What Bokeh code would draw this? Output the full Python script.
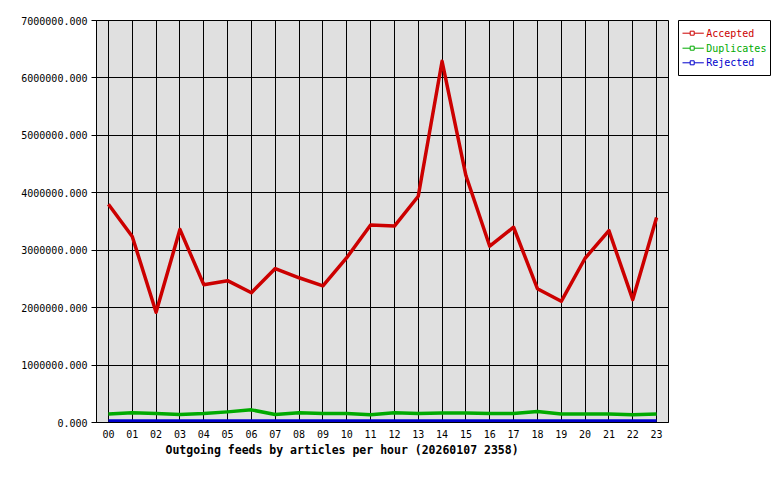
from bokeh.plotting import figure
from bokeh.models import FixedTicker, PrintfTickFormatter, Range1d, Title
from bokeh.layouts import row
from bokeh.embed import file_html
from bokeh.resources import INLINE
from bokeh.core.properties import value

# ---- data ----
hours = [0, 1, 2, 3, 4, 5, 6, 7, 8, 9, 10, 11, 12, 13, 14, 15, 16, 17, 18, 19, 20, 21, 22, 23]
hour_labels = ["00", "01", "02", "03", "04", "05", "06", "07", "08", "09", "10", "11",
               "12", "13", "14", "15", "16", "17", "18", "19", "20", "21", "22", "23"]
accepted = [3800000, 3240000, 1920000, 3360000, 2400000, 2470000, 2260000, 2680000,
            2520000, 2380000, 2870000, 3440000, 3420000, 3940000, 6290000, 4300000,
            3070000, 3400000, 2330000, 2110000, 2860000, 3340000, 2140000, 3570000]
duplicates = [150000, 170000, 155000, 140000, 155000, 185000, 220000, 140000,
              170000, 155000, 155000, 135000, 170000, 155000, 165000, 165000,
              155000, 155000, 190000, 150000, 150000, 150000, 135000, 150000]
rejected = [25000, 26000, 24000, 25000, 25000, 26000, 27000, 24000,
            25000, 25000, 26000, 24000, 25000, 26000, 28000, 27000,
            25000, 25000, 26000, 24000, 25000, 25000, 24000, 25000]
y_ticks = [0, 1000000, 2000000, 3000000, 4000000, 5000000, 6000000, 7000000]
series_names = ["Accepted", "Duplicates", "Rejected"]
series_colors = ["#cc0000", "#00aa00", "#0000cc"]
title_text = "Outgoing feeds by articles per hour (20260107 2358)"

FONT = "DejaVu Sans Mono"

# ---- main chart ----
p = figure(frame_width=572, frame_height=402, output_backend="svg", toolbar_location=None,
           title=None,
           x_range=Range1d(-0.5, 23.5), y_range=Range1d(0, 7000000),
           min_border_left=96, min_border_right=9, min_border_top=20,
           min_border_bottom=48, background_fill_color="#e0e0e0",
           border_fill_color="white", outline_line_color="black",
           outline_line_width=1)

p.xaxis.ticker = FixedTicker(ticks=hours)
p.xaxis.major_label_overrides = {h: lab for h, lab in zip(hours, hour_labels)}
p.xaxis.major_tick_out = 0
p.xaxis.major_tick_in = 0
p.xaxis.minor_tick_out = 0
p.xaxis.minor_tick_in = 0
p.xaxis.major_label_standoff = 7
p.yaxis.ticker = FixedTicker(ticks=y_ticks)
p.yaxis.formatter = PrintfTickFormatter(format="%.3f")
p.yaxis.major_tick_out = 5
p.yaxis.major_tick_in = 0
p.yaxis.minor_tick_out = 0
p.yaxis.minor_tick_in = 0
p.yaxis.major_label_standoff = 4
for ax in (p.xaxis, p.yaxis):
    ax.axis_line_color = "black"
    ax.major_tick_line_color = "black"
    ax.major_label_text_font = FONT
    ax.major_label_text_font_size = "10px"
    ax.major_label_text_color = "black"

p.xgrid.ticker = FixedTicker(ticks=hours)
p.ygrid.ticker = FixedTicker(ticks=y_ticks)
for g in (p.xgrid, p.ygrid):
    g.grid_line_color = "black"
    g.grid_line_alpha = 1.0
    g.grid_line_width = 1

for vals, col in zip([accepted, duplicates, rejected], series_colors):
    p.line(hours, vals, line_color=col, line_width=3.5, line_join="round")

p.add_layout(Title(text=title_text, align="left", offset=69, text_font=FONT,
                   text_font_size="11.5px", text_font_style="bold",
                   text_color="black", standoff=0), "below")

# ---- legend panel (frame = legend box, 1 unit = 1 px) ----
lg = figure(frame_width=92, frame_height=55, output_backend="svg", toolbar_location=None,
            title=None,
            x_range=Range1d(0, 92), y_range=Range1d(0, 55),
            min_border_left=1, min_border_right=2, min_border_top=20,
            min_border_bottom=2, x_axis_type=None, y_axis_type=None,
            background_fill_color="white", border_fill_color="white",
            outline_line_color="black", outline_line_width=1)
lg.grid.visible = False

row_y = [42.3, 27.3, 12.7]
seg_x0, seg_x1, mark_x, text_x = 4, 25.3, 13.7, 27.7
for name, col, yy in zip(series_names, series_colors, row_y):
    lg.segment(x0=[seg_x0], y0=[yy], x1=[seg_x1], y1=[yy], line_color=col, line_width=1)
    lg.scatter(x=[mark_x], y=[yy], marker="square", size=4, line_color=col,
               fill_color="white", line_width=1)
    lg.text(x=[text_x], y=[yy], text=[name], text_color=col, text_font=value(FONT),
            text_font_size="10px", text_align="left", text_baseline="middle")

layout = row(p, lg)
open("out.html", "w").write(file_html(layout, INLINE))
